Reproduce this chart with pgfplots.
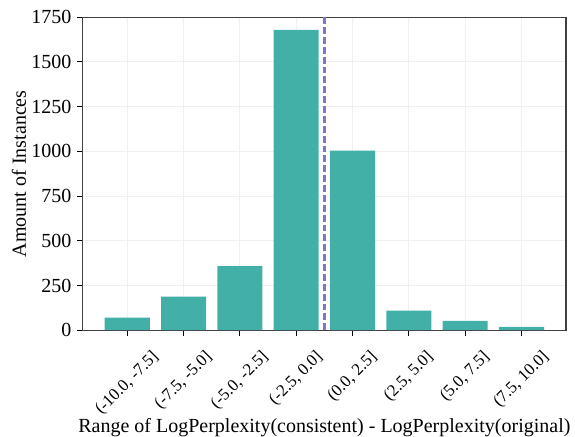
\documentclass[border=0pt]{standalone}
\usepackage{fontspec}
\setmainfont{Liberation Serif}
\usepackage{pgfplots}
\pgfplotsset{compat=1.18}
\definecolor{barteal}{RGB}{66,176,166}
\definecolor{medline}{RGB}{128,118,200}
\newcommand\rl[1]{\rotatebox{45}{#1}}
\begin{document}
\begin{tikzpicture}
\path[use as bounding box] (-66.2pt,-85.4pt) rectangle (393.8pt,264.2pt);
\begin{axis}[
  scale only axis, width=386.6pt, height=250.4pt,
  xmin=-0.79, xmax=7.79, ymin=0, ymax=1750,
  xtick={0,...,7},
  xticklabels={\rl{(-10.0, -7.5]}, \rl{(-7.5, -5.0]}, \rl{(-5.0, -2.5]}, \rl{(-2.5, 0.0]},
               \rl{(0.0, 2.5]}, \rl{(2.5, 5.0]}, \rl{(5.0, 7.5]}, \rl{(7.5, 10.0]}},
  ytick={0,250,...,1750},
  /pgf/number format/assume math mode=true,
  /pgf/number format/1000 sep={},
  yticklabel style={font=\fontsize{16}{16}\selectfont, anchor=east, xshift=-1pt},
  xticklabel style={font=\fontsize{13.5}{14}\selectfont, anchor=north, yshift=-7pt},
  label style={font=\fontsize{16}{19}\selectfont},
  xlabel={Range of LogPerplexity(consistent) - LogPerplexity(original)},
  ylabel={Amount of Instances},
  xlabel style={at={(axis description cs:0.5,0)}, yshift=-78pt, anchor=center},
  ylabel style={at={(axis description cs:-0.132,0.5)}, anchor=center},
  grid=major, major grid style={draw=black!6, line width=0.8pt},
  axis line style={black!75, line width=1pt},
  tick style={black, line width=0.8pt},
  tick align=outside, tickpos=left, major tick length=4.5pt,
]
\addplot[ybar, bar width=0.8, fill=barteal, draw=none] coordinates {
  (0,70) (1,188) (2,358) (3,1680) (4,1004) (5,110) (6,52) (7,19)
};
\addplot[medline, line width=1.9pt, dash pattern=on 5.5pt off 2.4pt] coordinates {
  (3.5,0) (3.5,1750)
};
\end{axis}
\end{tikzpicture}
\end{document}
